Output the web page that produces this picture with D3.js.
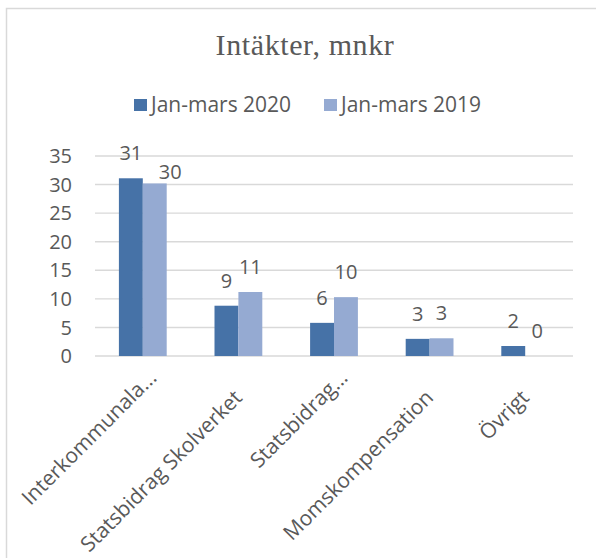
<!DOCTYPE html>
<html>
<head>
<meta charset="utf-8">
<script src="https://cdn.jsdelivr.net/npm/d3@7"></script>
<style>
  body { margin: 0; background: #fff; }
  svg text { font-family: "Open Sans", sans-serif; fill: #595959; }
</style>
</head>
<body>
<svg width="596" height="558"></svg>
<script>
"use strict";
var title = "Intäkter, mnkr";
var categories = ["Interkommunala...", "Statsbidrag Skolverket", "Statsbidrag...", "Momskompensation", "Övrigt"];
var seriesNames = ["Jan-mars 2020", "Jan-mars 2019"];
var values2020 = [31.1, 8.8, 5.8, 3.0, 1.75];
var values2019 = [30.2, 11.2, 10.3, 3.1, 0];
var yTicks = [0, 5, 10, 15, 20, 25, 30, 35];
var colors = ["#4672a7", "#95aad2"];

var svg = d3.select("svg");
var series = [values2020, values2019];

// chart frame (cut off at right and bottom)
svg.append("rect")
  .attr("x", 6.5).attr("y", 8.5)
  .attr("width", 640).attr("height", 600)
  .attr("fill", "none").attr("stroke", "#d9d9d9").attr("stroke-width", 1.5);

svg.append("text")
  .attr("x", 305).attr("y", 55)
  .attr("text-anchor", "middle")
  .style("font-family", "'Liberation Serif', serif")
  .style("font-size", "30px")
  .style("letter-spacing", "0.6px")
  .text(title);

// legend
var legend = svg.append("g").attr("transform", "translate(134,0)");
seriesNames.forEach(function (name, i) {
  var g = legend.append("g").attr("transform", "translate(" + (i * 190) + ",0)");
  g.append("rect").attr("x", 0).attr("y", 99).attr("width", 13).attr("height", 12).attr("fill", colors[i]);
  g.append("text").attr("x", 17).attr("y", 111.5).style("font-size", "21px").text(name);
});

var x = d3.scaleBand().domain(categories).range([95, 573]).paddingInner(0.5).paddingOuter(0.25);
var xs = d3.scaleBand().domain([0, 1]).range([0, x.bandwidth()]);
var y = d3.scaleLinear().domain([0, 35]).range([356, 156]);

// gridlines and y labels
svg.append("g").selectAll("line")
  .data(yTicks)
  .enter().append("line")
    .attr("x1", 95).attr("x2", 573)
    .attr("y1", function (d) { return y(d); })
    .attr("y2", function (d) { return y(d); })
    .attr("stroke", "#d9d9d9").attr("stroke-width", 1.4);

svg.append("g").selectAll("text")
  .data(yTicks)
  .enter().append("text")
    .attr("x", 72)
    .attr("y", function (d) { return y(d); })
    .attr("dy", "0.36em")
    .attr("text-anchor", "end")
    .style("font-size", "20px")
    .text(function (d) { return d; });

// bars
var groups = svg.append("g").selectAll("g")
  .data(categories)
  .enter().append("g")
    .attr("transform", function (d) { return "translate(" + x(d) + ",0)"; });

groups.selectAll("rect")
  .data(function (d, i) { return series.map(function (s, k) { return { k: k, v: s[i] }; }); })
  .enter().append("rect")
    .attr("x", function (d) { return xs(d.k); })
    .attr("width", xs.bandwidth())
    .attr("y", function (d) { return y(d.v); })
    .attr("height", function (d) { return y(0) - y(d.v); })
    .attr("fill", function (d) { return colors[d.k]; });

// data labels, the second one is pushed aside when the two collide
groups.each(function (c, i) {
  var g = d3.select(this);
  var labels = series.map(function (s, k) {
    return g.append("text")
      .attr("x", xs(k) + xs.bandwidth() / 2)
      .attr("y", y(s[i]) - 18)
      .attr("text-anchor", "middle")
      .style("font-size", "20px")
      .text(Math.round(s[i]));
  });
  var a = labels[0].node().getBBox(), b = labels[1].node().getBBox();
  var overlap = a.x + a.width + 4 > b.x && a.y + a.height > b.y + 2 && b.y + b.height > a.y + 2;
  if (overlap) {
    labels[1]
      .attr("text-anchor", "start")
      .attr("x", xs(1) + xs.bandwidth() / 2 + 4)
      .attr("y", y(series[1][i]) - 4);
  }
});

// category labels (truncated ones sit further up the diagonal)
svg.append("g").selectAll("text")
  .data(categories)
  .enter().append("text")
    .attr("transform", function (d) {
      var cx = x(d) + x.bandwidth() / 2;
      var cut = d.slice(-3) === "...";
      return "translate(" + (cx + (cut ? 15 : 5)) + "," + (cut ? 379 : 399) + ") rotate(-45)";
    })
    .attr("text-anchor", "end")
    .style("font-size", "21px")
    .text(function (d) { return d; });
</script>
</body>
</html>
